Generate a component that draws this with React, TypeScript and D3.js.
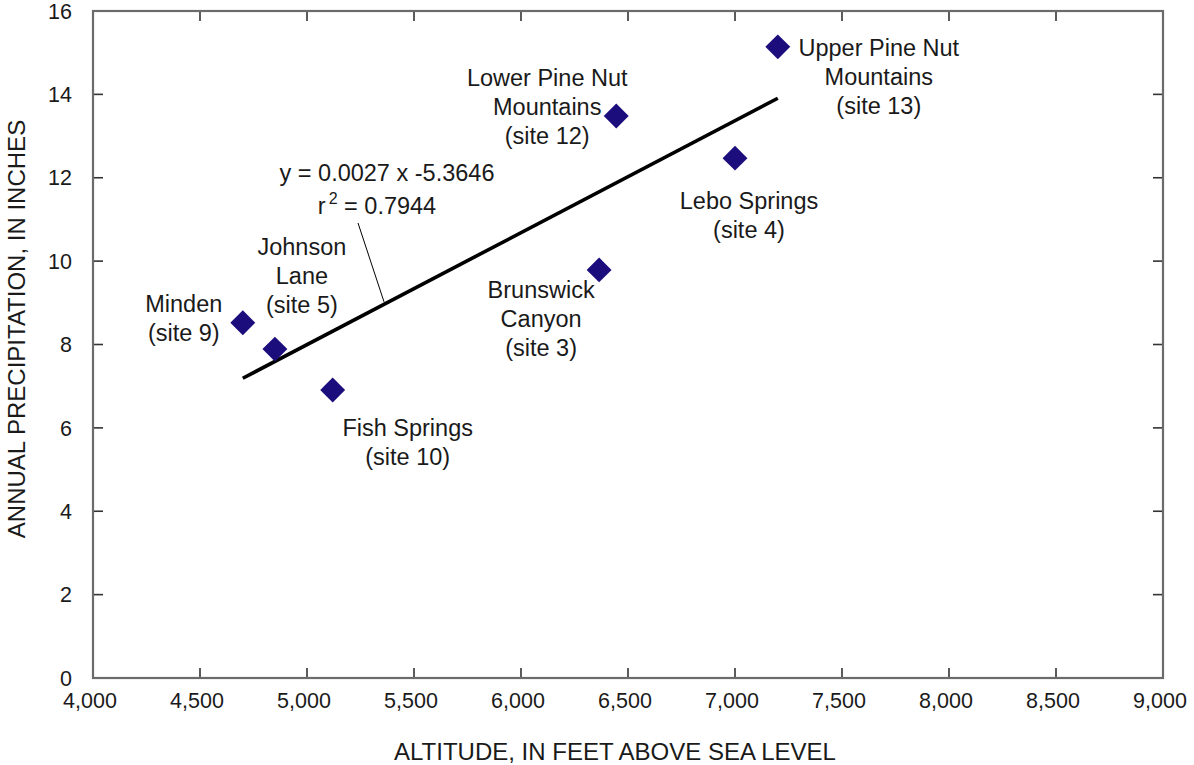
import React, { useEffect, useRef } from "react";
import * as d3 from "d3";

// site data
const siteNames = [
  ["Minden", "(site 9)"],
  ["Johnson", "Lane", "(site 5)"],
  ["Fish Springs", "(site 10)"],
  ["Brunswick", "Canyon", "(site 3)"],
  ["Lower Pine Nut", "Mountains", "(site 12)"],
  ["Lebo Springs", "(site 4)"],
  ["Upper Pine Nut", "Mountains", "(site 13)"],
];
const altitude = [4700, 4850, 5120, 6365, 6445, 7000, 7200];
const precipitation = [8.52, 7.89, 6.91, 9.79, 13.48, 12.47, 15.14];
// label placement relative to marker (px): [dx, dy of first baseline]
const labelOffsets = [
  [-59, -11],
  [27, -94],
  [75, 46],
  [-58, 28],
  [-69, -30],
  [14, 51],
  [101, 9],
];
const xTicks = [4000, 4500, 5000, 5500, 6000, 6500, 7000, 7500, 8000, 8500, 9000];
const yTicks = [0, 2, 4, 6, 8, 10, 12, 14, 16];
const equationText = "y = 0.0027 x -5.3646";
const r2Text = "0.7944";

const App = () => {
  const svgRef = useRef<SVGSVGElement>(null);

  useEffect(() => {
    document.body.style.margin = "0";
    const svg = d3.select(svgRef.current);
    svg.selectAll("*").remove();

    const width = 1194,
      height = 765;
    const left = 93,
      right = 1163,
      top = 11,
      bottom = 678;
    const font = "'Liberation Sans', Arial, Helvetica, sans-serif";
    const textColor = "#1a1a1a";
    const labelSize = 23.5;

    const x = d3.scaleLinear().domain([4000, 9000]).range([left, right]);
    const y = d3.scaleLinear().domain([0, 16]).range([bottom, top]);

    svg.attr("width", width).attr("height", height);

    // ticks (inward, on all four sides)
    const tickLen = 10;
    const ticks = svg.append("g").attr("stroke", "#333").attr("stroke-width", 1.6);
    xTicks.slice(1, -1).forEach((t) => {
      ticks.append("line").attr("x1", x(t)).attr("x2", x(t)).attr("y1", bottom).attr("y2", bottom - tickLen);
      ticks.append("line").attr("x1", x(t)).attr("x2", x(t)).attr("y1", top).attr("y2", top + tickLen);
    });
    yTicks.slice(1, -1).forEach((t) => {
      ticks.append("line").attr("x1", left).attr("x2", left + tickLen).attr("y1", y(t)).attr("y2", y(t));
      ticks.append("line").attr("x1", right).attr("x2", right - tickLen).attr("y1", y(t)).attr("y2", y(t));
    });

    // frame
    svg
      .append("rect")
      .attr("x", left)
      .attr("y", top)
      .attr("width", right - left)
      .attr("height", bottom - top)
      .attr("fill", "none")
      .attr("stroke", "#6b6b6b")
      .attr("stroke-width", 2.2);

    // tick labels
    const fmt = d3.format(",");
    svg
      .append("g")
      .selectAll("text")
      .data(xTicks)
      .join("text")
      .attr("x", (d) => x(d) - 3)
      .attr("y", 708)
      .attr("text-anchor", "middle")
      .attr("font-family", font)
      .attr("font-size", 21.5)
      .attr("fill", textColor)
      .text((d) => fmt(d));

    svg
      .append("g")
      .selectAll("text")
      .data(yTicks)
      .join("text")
      .attr("x", 72)
      .attr("y", (d) => y(d))
      .attr("dy", "0.36em")
      .attr("text-anchor", "end")
      .attr("font-family", font)
      .attr("font-size", 21.5)
      .attr("fill", textColor)
      .text((d) => d);

    // axis titles
    svg
      .append("text")
      .attr("x", 615)
      .attr("y", 760)
      .attr("text-anchor", "middle")
      .attr("font-family", font)
      .attr("font-size", 24)
      .attr("fill", textColor)
      .text("ALTITUDE, IN FEET ABOVE SEA LEVEL");

    svg
      .append("text")
      .attr("transform", "translate(25,329) rotate(-90)")
      .attr("text-anchor", "middle")
      .attr("font-family", font)
      .attr("font-size", 24)
      .attr("fill", textColor)
      .text("ANNUAL PRECIPITATION, IN INCHES");

    // regression line (least squares)
    const mx = d3.mean(altitude) as number;
    const my = d3.mean(precipitation) as number;
    const sxy = d3.sum(altitude, (a, i) => (a - mx) * (precipitation[i] - my));
    const sxx = d3.sum(altitude, (a) => (a - mx) ** 2);
    const slope = sxy / sxx;
    const intercept = my - slope * mx;
    const [x0, x1] = d3.extent(altitude) as [number, number];
    const fit = (v: number) => slope * v + intercept;
    svg
      .append("line")
      .attr("x1", x(x0))
      .attr("y1", y(fit(x0) - 0.08))
      .attr("x2", x(x1))
      .attr("y2", y(fit(x1)))
      .attr("stroke", "#000")
      .attr("stroke-width", 3.6);

    // leader from equation to line
    const leaderX = 5360;
    svg
      .append("line")
      .attr("x1", 358)
      .attr("y1", 223)
      .attr("x2", x(leaderX))
      .attr("y2", y(fit(leaderX)))
      .attr("stroke", "#000")
      .attr("stroke-width", 1);

    svg
      .append("text")
      .attr("x", 387)
      .attr("y", 181)
      .attr("text-anchor", "middle")
      .attr("font-family", font)
      .attr("font-size", labelSize)
      .attr("fill", textColor)
      .text(equationText);
    const r2 = svg
      .append("text")
      .attr("x", 377)
      .attr("y", 214)
      .attr("text-anchor", "middle")
      .attr("font-family", font)
      .attr("font-size", labelSize)
      .attr("fill", textColor);
    r2.append("tspan").text("r");
    r2.append("tspan").attr("dy", -10).attr("font-size", 16).attr("dx", 3).text("2");
    r2.append("tspan").attr("dy", 10).text(" = " + r2Text);

    // markers
    const points = altitude.map((a, i) => ({ a, p: precipitation[i], i }));
    svg
      .append("g")
      .selectAll("path")
      .data(points)
      .join("path")
      .attr("d", d3.symbol(d3.symbolSquare, 310)())
      .attr("transform", (d) => `translate(${x(d.a)},${y(d.p)}) rotate(45)`)
      .attr("fill", "#1c0d7c");

    // site labels
    const labels = svg
      .append("g")
      .selectAll("text")
      .data(points)
      .join("text")
      .attr("text-anchor", "middle")
      .attr("font-family", font)
      .attr("font-size", labelSize)
      .attr("fill", textColor);
    labels.each(function (d) {
      const t = d3.select(this);
      const cx = x(d.a) + labelOffsets[d.i][0];
      const cy = y(d.p) + labelOffsets[d.i][1];
      siteNames[d.i].forEach((line, k) => {
        t.append("tspan").attr("x", cx).attr("y", cy + k * 29).text(line);
      });
    });
  }, []);

  return <svg ref={svgRef} style={{ display: "block" }} />;
};

export default App;
